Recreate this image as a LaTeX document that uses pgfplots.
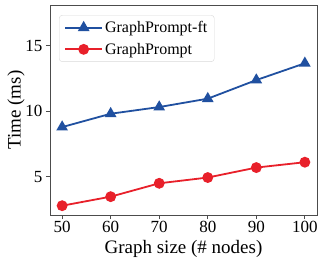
\documentclass[border=0pt]{standalone}
\usepackage{fontspec}
\setmainfont{Liberation Serif}
\usepackage{pgfplots}
\pgfplotsset{compat=1.18}
\definecolor{cblue}{HTML}{2050A0}
\definecolor{cred}{HTML}{E8202A}
\begin{document}
\begin{tikzpicture}
\begin{axis}[
  name=ax,
  scale only axis,
  width=267pt, height=210pt,
  xmin=47.5, xmax=102.5,
  ymin=2.07, ymax=18.1,
  xtick={50,60,70,80,90,100},
  ytick={5,10,15},
  tick align=outside,
  tick pos=left,
  major tick length=4pt,
  axis line style={draw=black!70, line width=0.8pt},
  every tick/.style={black!70, line width=0.8pt},
  /pgf/number format/assume math mode=true,
  ticklabel style={font=\fontsize{17}{19}\selectfont},
  xticklabel style={yshift=1pt},
  label style={font=\fontsize{19}{21}\selectfont},
  xlabel={Graph size (\# nodes)},
  ylabel={Time (ms)},
  xlabel style={yshift=0pt},
  ylabel style={yshift=-6pt},
  legend cell align=left,
  legend style={at={(0.034,0.952)}, anchor=north west, draw=black!15, rounded corners=3pt,
    font=\fontsize{16}{18}\selectfont, inner xsep=5pt, inner ysep=4pt, row sep=5pt},
  legend image code/.code={\draw[mark repeat=2,mark phase=2] plot coordinates {(0cm,0cm) (0.65cm,0cm) (1.3cm,0cm)};},
]
\addplot[cblue, line width=1.8pt, mark=triangle*, mark size=5pt, mark options={solid}] coordinates {
(50,8.78) (60,9.80) (70,10.31) (80,10.95) (90,12.37) (100,13.65)};
\addlegendentry{GraphPrompt-ft}
\addplot[cred, line width=1.8pt, mark=*, mark size=4.5pt, mark options={solid}] coordinates {
(50,2.78) (60,3.47) (70,4.49) (80,4.93) (90,5.69) (100,6.10)};
\addlegendentry{GraphPrompt}
\end{axis}
\pgfresetboundingbox
\path ([shift={(-50pt,-42pt)}]ax.south west) rectangle ([shift={(3pt,5pt)}]ax.north east);
\end{tikzpicture}
\end{document}
